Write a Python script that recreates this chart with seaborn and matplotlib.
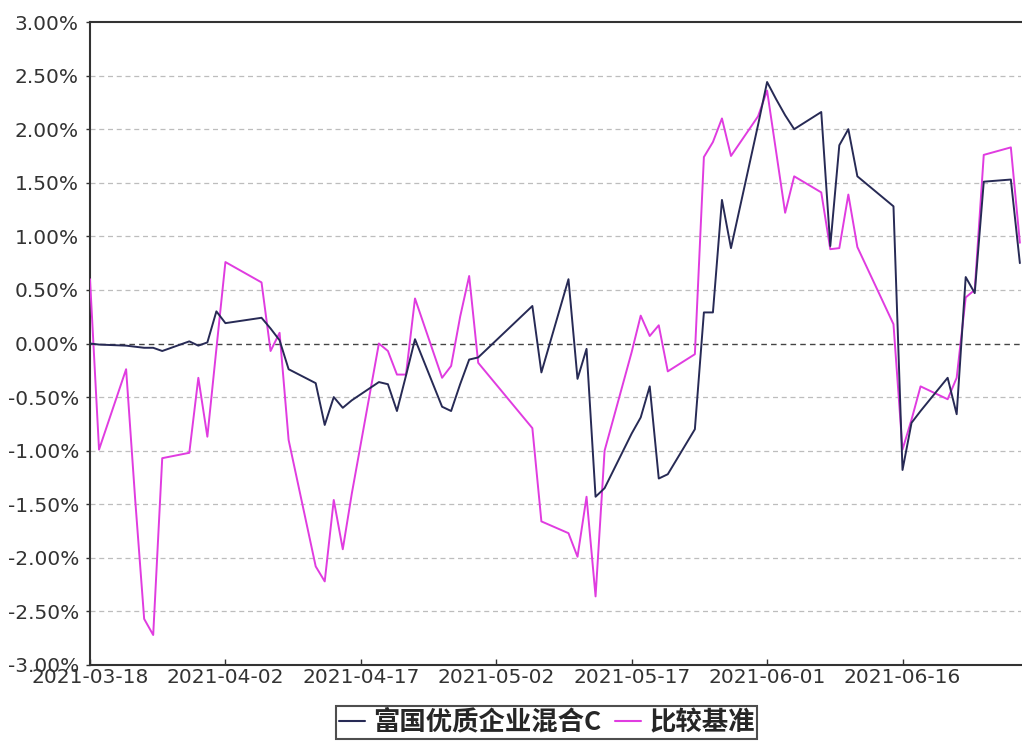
import matplotlib
matplotlib.use("Agg")
import matplotlib.pyplot as plt
from matplotlib.lines import Line2D
from matplotlib.font_manager import FontProperties
import seaborn as sns
import pandas as pd

# ---- data (percent) ----
dates = [
    "2021-03-18", "2021-03-19", "2021-03-22", "2021-03-23", "2021-03-24", "2021-03-25", "2021-03-26",
    "2021-03-29", "2021-03-30", "2021-03-31", "2021-04-01", "2021-04-02",
    "2021-04-06", "2021-04-07", "2021-04-08", "2021-04-09",
    "2021-04-12", "2021-04-13", "2021-04-14", "2021-04-15", "2021-04-16",
    "2021-04-19", "2021-04-20", "2021-04-21", "2021-04-22", "2021-04-23",
    "2021-04-26", "2021-04-27", "2021-04-28", "2021-04-29", "2021-04-30",
    "2021-05-06", "2021-05-07",
    "2021-05-10", "2021-05-11", "2021-05-12", "2021-05-13", "2021-05-14",
    "2021-05-17", "2021-05-18", "2021-05-19", "2021-05-20", "2021-05-21",
    "2021-05-24", "2021-05-25", "2021-05-26", "2021-05-27", "2021-05-28",
    "2021-05-31", "2021-06-01", "2021-06-02", "2021-06-03", "2021-06-04",
    "2021-06-07", "2021-06-08", "2021-06-09", "2021-06-10", "2021-06-11",
    "2021-06-15", "2021-06-16", "2021-06-17", "2021-06-18",
    "2021-06-21", "2021-06-22", "2021-06-23", "2021-06-24", "2021-06-25",
    "2021-06-28", "2021-06-29",
]

fund = [
    0.00, -0.01, -0.02, -0.03, -0.04, -0.04, -0.07,
    0.02, -0.02, 0.01, 0.30, 0.19,
    0.24, 0.14, 0.03, -0.24,
    -0.37, -0.76, -0.50, -0.60, -0.53,
    -0.36, -0.38, -0.63, -0.30, 0.04,
    -0.59, -0.63, -0.38, -0.15, -0.13,
    0.35, -0.27,
    0.60, -0.33, -0.05, -1.43, -1.35,
    -0.84, -0.69, -0.40, -1.26, -1.22,
    -0.80, 0.29, 0.29, 1.34, 0.89,
    2.04, 2.44, 2.28, 2.13, 2.00,
    2.16, 0.91, 1.85, 2.00, 1.56,
    1.28, -1.18, -0.74, -0.63,
    -0.32, -0.66, 0.62, 0.47, 1.51,
    1.53, 0.75,
]

benchmark = [
    0.60, -0.99, -0.24, -1.45, -2.57, -2.72, -1.07,
    -1.02, -0.32, -0.87, -0.05, 0.76,
    0.57, -0.07, 0.10, -0.90,
    -2.08, -2.22, -1.46, -1.92, -1.40,
    0.00, -0.07, -0.29, -0.29, 0.42,
    -0.32, -0.21, 0.25, 0.63, -0.18,
    -0.79, -1.66,
    -1.77, -1.99, -1.43, -2.36, -1.00,
    -0.08, 0.26, 0.07, 0.17, -0.26,
    -0.10, 1.74, 1.88, 2.10, 1.75,
    2.12, 2.36, 1.79, 1.22, 1.56,
    1.41, 0.88, 0.89, 1.39, 0.90,
    0.18, -0.99, -0.71, -0.40,
    -0.52, -0.32, 0.43, 0.50, 1.76,
    1.83, 0.94,
]

series_names = ["富国优质企业混合C", "比较基准"]
series_colors = ["#272a55", "#e03ce0"]
y_ticks = [-3.0, -2.5, -2.0, -1.5, -1.0, -0.5, 0.0, 0.5, 1.0, 1.5, 2.0, 2.5, 3.0]
x_tick_labels = ["2021-03-18", "2021-04-02", "2021-04-17", "2021-05-02",
                 "2021-05-17", "2021-06-01", "2021-06-16"]

# ---- build long table ----
d = pd.to_datetime(dates)
df = pd.concat([
    pd.DataFrame({"date": d, "value": fund, "series": series_names[0]}),
    pd.DataFrame({"date": d, "value": benchmark, "series": series_names[1]}),
], ignore_index=True)

sns.set_style("white")
plt.rcParams["font.family"] = ["DejaVu Sans", "Noto Sans CJK SC"]

fig = plt.figure(figsize=(10.22, 7.44), dpi=100)
ax = fig.add_axes([90 / 1022, (744 - 665) / 744, (1021 - 90) / 1022, (665 - 22) / 744])

# grid lines
for yv in y_ticks:
    if yv == 0.0:
        ax.axhline(yv, color="#444444", lw=1.0, ls=(0, (4, 3)), zorder=1)
    elif abs(yv) < 3:
        ax.axhline(yv, color="#bdbdbd", lw=0.9, ls=(0, (4, 3)), zorder=1)

sns.lineplot(data=df, x="date", y="value", hue="series",
             palette=dict(zip(series_names, series_colors)),
             hue_order=series_names[::-1], lw=1.4, legend=False, ax=ax,
             estimator=None, sort=True, zorder=3)

ax.set_ylim(-3.0, 3.0)
ax.set_yticks(y_ticks)
ax.set_yticklabels([f"{v:.2f}%" for v in y_ticks])
ax.set_xlim(pd.Timestamp("2021-03-18"), pd.Timestamp("2021-06-29") + pd.Timedelta(hours=3))
ax.set_xticks(pd.to_datetime(x_tick_labels))
ax.set_xticklabels(x_tick_labels)
ax.set_xlabel("")
ax.set_ylabel("")

for side in ["left", "bottom", "top"]:
    ax.spines[side].set_visible(True)
    ax.spines[side].set_color("#333333")
    ax.spines[side].set_linewidth(1.5)
ax.spines["right"].set_visible(False)

ax.tick_params(axis="y", direction="out", length=3, width=1, color="#333333",
               labelsize=14.5, labelcolor="#333333", pad=5, left=True)
ax.tick_params(axis="x", direction="in", length=4, width=1, color="#333333",
               labelsize=14.5, labelcolor="#333333", pad=2, bottom=True)

handles = [Line2D([0], [0], color=c, lw=1.5) for c in series_colors]
leg = fig.legend(handles, series_names, loc="center", bbox_to_anchor=(0.535, 0.029),
                 ncol=2, frameon=True, fancybox=False, shadow=False,
                 prop=FontProperties(family=["Noto Sans CJK SC"], weight="bold", size=19),
                 handlelength=1.0, handletextpad=0.3, columnspacing=0.5,
                 borderpad=0.1, borderaxespad=0)
leg.get_frame().set_edgecolor("#222222")
leg.get_frame().set_linewidth(1.5)
leg.get_frame().set_facecolor("white")

fig.savefig("out.png", dpi=100)
